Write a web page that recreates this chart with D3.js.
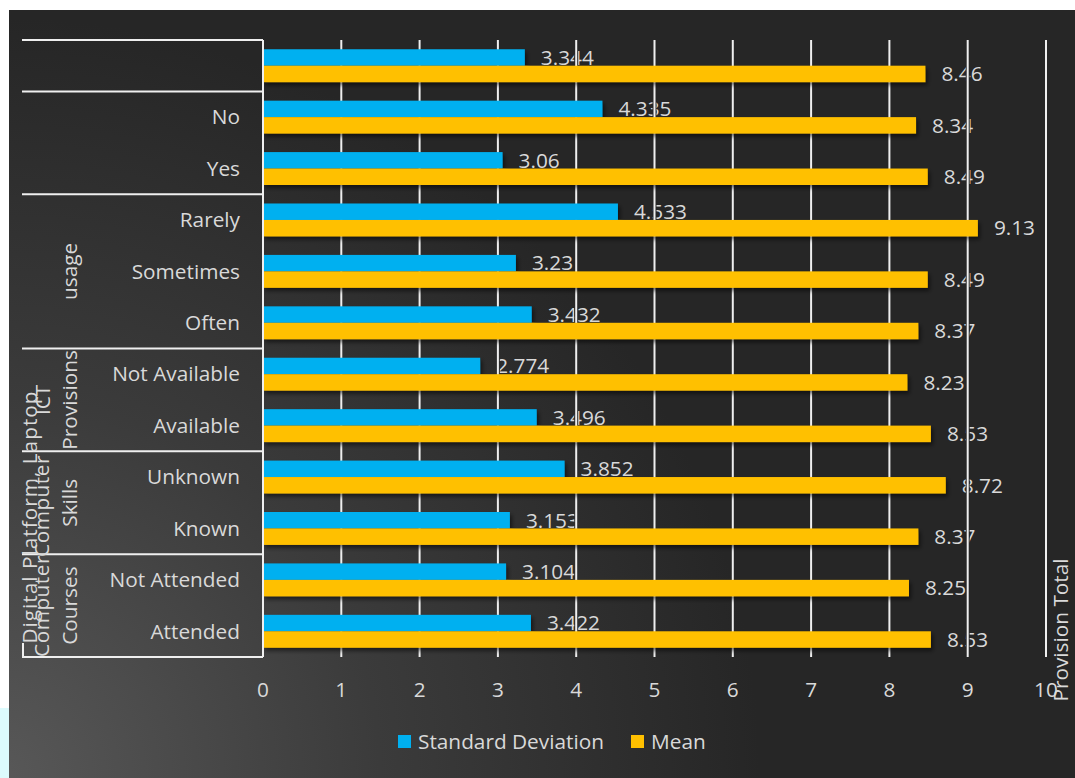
<!DOCTYPE html>
<html>
<head>
<meta charset="utf-8">
<script src="https://cdn.jsdelivr.net/npm/d3@7"></script>
<style>
  body { margin: 0; background: #fff; }
  svg { display: block; font-family: "Open Sans", sans-serif; }
</style>
</head>
<body>
<svg width="1075" height="778"></svg>
<script>
// rows top to bottom
var categories = ["", "No", "Yes", "Rarely", "Sometimes", "Often", "Not Available", "Available", "Unknown", "Known", "Not Attended", "Attended"];
var sdValues = [3.344, 4.335, 3.06, 4.533, 3.23, 3.432, 2.774, 3.496, 3.852, 3.153, 3.104, 3.422];
var meanValues = [8.46, 8.34, 8.49, 9.13, 8.49, 8.37, 8.23, 8.53, 8.72, 8.37, 8.25, 8.53];
var groupLabels = ["", "", "usage", ["ICT", "Provisions"], "Skills", "Courses"];
var groupStarts = [0, 1, 3, 6, 8, 10, 12];
var xTicks = [0, 1, 2, 3, 4, 5, 6, 7, 8, 9, 10];
var seriesNames = ["Standard Deviation", "Mean"];
var colors = ["#00b0f0", "#ffc000"];

var fs = 20.8;
var svg = d3.select("svg");
var defs = svg.append("defs");
var grad = defs.append("radialGradient").attr("id", "bg")
    .attr("gradientUnits", "userSpaceOnUse")
    .attr("cx", 0).attr("cy", 778).attr("r", 760);
grad.append("stop").attr("offset", 0).attr("stop-color", "#585858");
grad.append("stop").attr("offset", 0.5).attr("stop-color", "#3b3b3b");
grad.append("stop").attr("offset", 1).attr("stop-color", "#262626");
defs.append("filter").attr("id", "shadow")
    .attr("x", "-5%").attr("y", "-30%").attr("width", "110%").attr("height", "170%")
  .append("feDropShadow")
    .attr("dx", 2).attr("dy", 3).attr("stdDeviation", 2)
    .attr("flood-color", "#000").attr("flood-opacity", 0.55);

svg.append("rect").attr("x", 0).attr("y", 708).attr("width", 9).attr("height", 70).attr("fill", "#dcfbfd");
svg.append("rect").attr("x", 9).attr("y", 10).attr("width", 1066).attr("height", 768).attr("fill", "url(#bg)");

var x = d3.scaleLinear().domain([0, 10]).range([263, 1046]);
var y = d3.scaleBand().domain(d3.range(categories.length)).range([40, 657])
    .paddingInner(0.36).paddingOuter(0.18);
var ySub = d3.scaleBand().domain([0, 1]).range([0, y.bandwidth()]);
var step = y.step();
function rowTop(i) { return 40 + i * step; }

var textColor = "#d9d9d9";

// data labels (drawn before gridlines, as in the original)
var labels = svg.append("g").attr("fill", textColor).attr("font-size", fs);
[sdValues, meanValues].forEach(function(vals, s) {
  labels.selectAll(null).data(vals).enter().append("text")
      .attr("x", function(d) { return x(d) + 16; })
      .attr("y", function(d, i) { return y(i) + ySub(s) + ySub.bandwidth() / 2; })
      .attr("dy", "0.35em")
      .text(function(d) { return d; });
});

// gridlines
var grid = svg.append("g");
grid.selectAll(".halo").data(xTicks.slice(1)).enter().append("line")
    .attr("x1", x).attr("x2", x).attr("y1", 40).attr("y2", 657)
    .attr("stroke", "url(#bg)").attr("stroke-width", 4);
grid.selectAll(".gl").data(xTicks.slice(1)).enter().append("line")
    .attr("x1", x).attr("x2", x).attr("y1", 40).attr("y2", 657)
    .attr("stroke", "#efefef").attr("stroke-width", 2);

// bars
var bars = svg.append("g").attr("filter", "url(#shadow)");
[sdValues, meanValues].forEach(function(vals, s) {
  bars.selectAll(null).data(vals).enter().append("rect")
      .attr("x", x(0))
      .attr("y", function(d, i) { return y(i) + ySub(s); })
      .attr("width", function(d) { return x(d) - x(0); })
      .attr("height", ySub.bandwidth())
      .attr("fill", colors[s]);
});

// category axis
var axis = svg.append("g");
axis.append("line").attr("x1", x(0)).attr("x2", x(0)).attr("y1", 40).attr("y2", 657)
    .attr("stroke", "#efefef").attr("stroke-width", 2);
axis.selectAll(".sep").data(groupStarts).enter().append("line")
    .attr("x1", 22).attr("x2", x(0)).attr("y1", rowTop).attr("y2", rowTop)
    .attr("stroke", "#efefef").attr("stroke-width", 2);
axis.append("line").attr("x1", 23).attr("x2", 23).attr("y1", 643).attr("y2", 657)
    .attr("stroke", "#efefef").attr("stroke-width", 2);

axis.selectAll(".cat").data(categories).enter().append("text")
    .attr("x", 240).attr("y", function(d, i) { return y(i) + y.bandwidth() / 2; })
    .attr("dy", "0.35em").attr("text-anchor", "end")
    .attr("fill", textColor).attr("font-size", fs)
    .text(function(d) { return d; });

groupLabels.forEach(function(g, k) {
  if (!g) return;
  var lines = Array.isArray(g) ? g : [g];
  var cy = (rowTop(groupStarts[k]) + rowTop(groupStarts[k + 1])) / 2;
  lines.forEach(function(t, j) {
    var cx = 70 - (lines.length - 1 - j) * 27;
    axis.append("text")
        .attr("transform", "translate(" + cx + "," + cy + ") rotate(-90)")
        .attr("text-anchor", "middle").attr("dy", "0.35em")
        .attr("fill", textColor).attr("font-size", fs)
        .text(t);
  });
});

// outer level labels, overlapping as in the original
var outer = [
  {text: "Digital Platform, Laptop", cx: 30, cy: 517, spacing: 1},
  {text: "Computer", cx: 42, cy: 506, spacing: 0.5},
  {text: "Computer", cx: 42, cy: 606, spacing: 0.5}
];
outer.forEach(function(o) {
  axis.append("text")
      .attr("transform", "translate(" + o.cx + "," + o.cy + ") rotate(-90)")
      .attr("text-anchor", "middle").attr("dy", "0.35em")
      .attr("letter-spacing", o.spacing)
      .attr("fill", textColor).attr("font-size", fs)
      .text(o.text);
});

// value axis labels
svg.append("g").selectAll("text").data(xTicks).enter().append("text")
    .attr("x", x).attr("y", 690).attr("dy", "0.35em").attr("text-anchor", "middle")
    .attr("fill", textColor).attr("font-size", fs)
    .text(function(d) { return d; });

// secondary title on the right
svg.append("text")
    .attr("transform", "translate(1061,630) rotate(-90)")
    .attr("text-anchor", "middle").attr("dy", "0.35em")
    .attr("fill", textColor).attr("font-size", fs)
    .text("Provision Total");

// legend
var legend = svg.append("g");
var legendX = [398, 631];
seriesNames.forEach(function(name, s) {
  legend.append("rect").attr("x", legendX[s]).attr("y", 735)
      .attr("width", 13).attr("height", 13).attr("fill", colors[s]);
  legend.append("text").attr("x", legendX[s] + 20).attr("y", 742).attr("dy", "0.35em")
      .attr("fill", textColor).attr("font-size", fs)
      .text(name);
});
</script>
</body>
</html>
